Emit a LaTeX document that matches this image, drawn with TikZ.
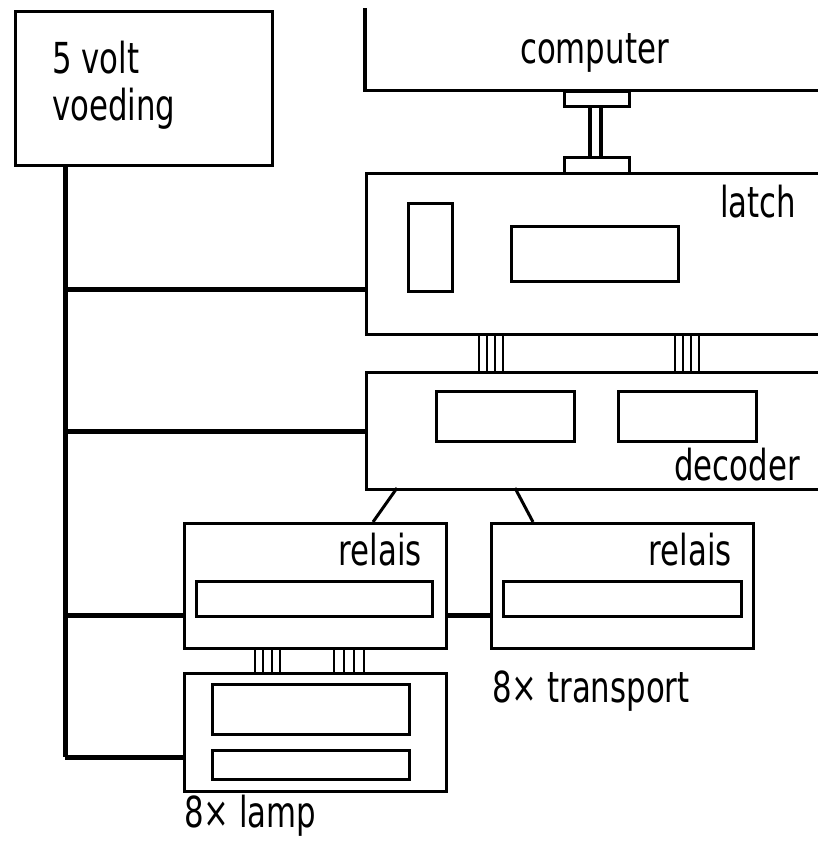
\documentclass[tikz,border=0pt]{standalone}
\usepackage{fontspec}
\setmainfont{DejaVu Sans}
\begin{document}
\begin{tikzpicture}[x=1pt,y=-1pt,
  box/.style={draw,line width=3.2pt,rectangle,inner sep=0pt,anchor=north west},
  inbox/.style={draw,line width=2.8pt,rectangle,inner sep=0pt,anchor=north west},
  lbl/.style={inner sep=0pt,font=\fontsize{35}{40}\selectfont,xscale=0.88,yscale=1.22},
  bus/.style={line width=5pt},
  wire/.style={line width=3pt},
  busline/.style={line width=2.8pt}]
\useasboundingbox (0,0) rectangle (818,841);
\clip (0,0) rectangle (818,841);
% boxes
\node[box,minimum width=257pt,minimum height=154pt] (voed) at (14,10) {};
\node[inner sep=0pt,minimum width=480pt,minimum height=90pt,anchor=north west] (comp) at (365,0) {};
\draw[line width=3.2pt] (365,8) -- (comp.south west) -- (comp.south east);
\node[box,minimum width=480pt,minimum height=161pt] (latch) at (365,172) {};
\node[inbox,minimum width=44pt,minimum height=88pt] (lA) at (407,202) {};
\node[inbox,minimum width=167pt,minimum height=55pt] (lB) at (510,225) {};
\node[box,minimum width=480pt,minimum height=117pt] (dec) at (365,371) {};
\node[inbox,minimum width=138pt,minimum height=50pt] (dA) at (435,390) {};
\node[inbox,minimum width=138pt,minimum height=50pt] (dB) at (617,390) {};
\node[box,minimum width=262pt,minimum height=125pt] (rel1) at (183,522) {};
\node[inbox,minimum width=236pt,minimum height=35pt] (r1i) at (195,580) {};
\node[box,minimum width=262pt,minimum height=125pt] (rel2) at (490,522) {};
\node[inbox,minimum width=238pt,minimum height=35pt] (r2i) at (502,580) {};
\node[box,minimum width=262pt,minimum height=118pt] (lamp) at (183,672) {};
\node[inbox,minimum width=197pt,minimum height=50pt] (lpA) at (211,683) {};
\node[inbox,minimum width=197pt,minimum height=29pt] (lpB) at (211,749) {};
% labels
\node[lbl,anchor=base west] (t5v) at (52,73) {5 volt};
\node[lbl,anchor=base west] (tvo) at (52,120) {voeding};
\node[lbl,anchor=base west] (tco) at (520,63) {computer};
\node[lbl,anchor=base west] (tla) at (720,217) {latch};
\node[lbl,anchor=base east] (tde) at (800,480) {decoder};
\node[lbl,anchor=base east] (tr1) at (422,565) {relais};
\node[lbl,anchor=base east] (tr2) at (732,565) {relais};
\node[lbl,anchor=base west] (ttr) at (492,702) {8× transport};
\node[lbl,anchor=base west] (tlm) at (184,827) {8× lamp};
% power bus
\coordinate (b0) at (65,164);
\coordinate (bL) at (65,289);
\coordinate (bD) at (65,431);
\coordinate (bR) at (65,615);
\coordinate (bP) at (65,757);
\draw[bus] (b0) -- (bP);
\draw[bus] (bL) -- (bL -| latch.west);
\draw[bus] (bD) -- (bD -| dec.west);
\draw[bus] (bR) -- (bR -| rel1.west);
\draw[bus] (bP) -- (bP -| lamp.west);
\draw[bus] (bR -| rel1.east) -- (bR -| rel2.west);
% computer - latch connector
\node[draw,line width=2.8pt,inner sep=0pt,minimum width=65pt,minimum height=15pt,anchor=north west] (ct) at (563,90) {};
\node[draw,line width=2.8pt,inner sep=0pt,minimum width=65pt,minimum height=16pt,anchor=north west] (cb) at (563,156) {};
\draw[line width=4pt] (590,105) -- (590,156);
\draw[line width=4pt] (601,105) -- (601,156);
% latch - decoder buses
\foreach \x in {479,487,495,503,675,683,691,699}
  \draw[busline] (\x,333) -- (\x,371);
% relais - lamp buses
\foreach \x in {255,263,272,280,334,344,354,364}
  \draw[busline] (\x,647) -- (\x,672);
% decoder - relais
\draw[wire] (397,488) -- (373,522);
\draw[wire] (515,488) -- (533,522);
\end{tikzpicture}
\end{document}
